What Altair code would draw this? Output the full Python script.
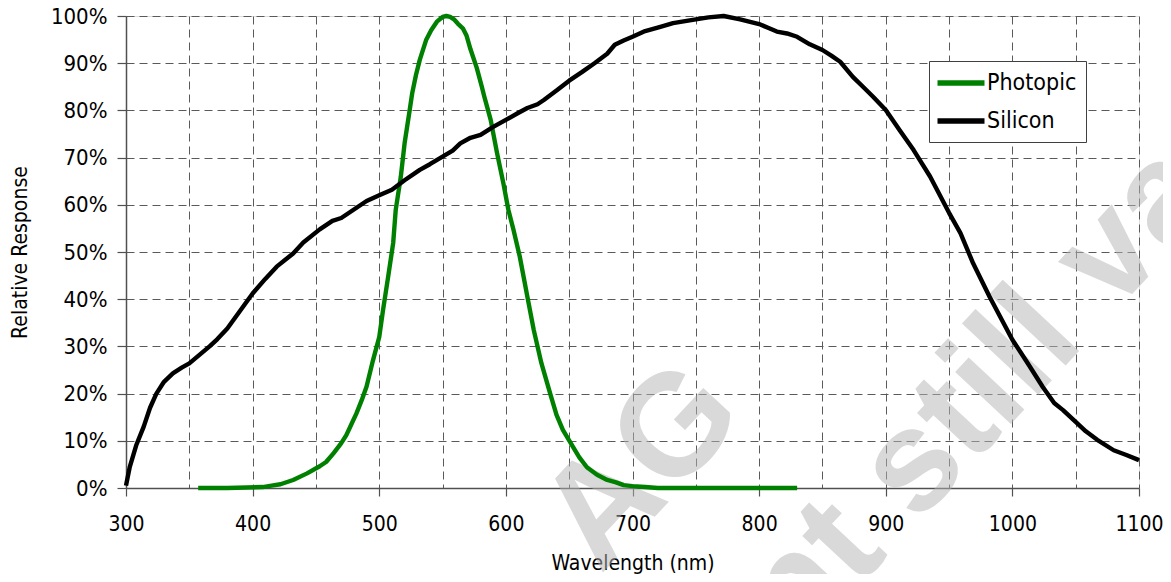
import altair as alt
import pandas as pd

# ---- data ----
silicon_nm = [300, 303, 308, 314, 319, 324, 330, 337, 344, 350, 358, 366, 372, 380, 390,
              400, 410, 419, 432, 440, 453, 463, 470, 480, 490, 500, 510, 520, 532, 540,
              550, 558, 564, 572, 580, 590, 600, 610, 617, 625, 630, 640, 650, 660, 670,
              680, 686, 693, 700, 710, 722, 732, 750, 760, 772, 785, 800, 807, 814, 822,
              830, 840, 850, 857, 864, 874, 882, 890, 900, 911, 922, 935, 950, 959, 969,
              982, 1000, 1012, 1024, 1033, 1040, 1050, 1058, 1067, 1080, 1090, 1100]
silicon_pct = [0.5, 4.5, 9, 13, 17, 20, 22.5, 24.3, 25.5, 26.4, 28.2, 30, 31.5, 33.8, 37.5,
               41.2, 44.3, 46.9, 49.7, 52, 54.8, 56.6, 57.2, 59, 60.8, 62, 63.2, 65.2, 67.4, 68.6,
               70.2, 71.5, 73, 74.2, 74.8, 76.5, 78, 79.5, 80.5, 81.3, 82.2, 84.2, 86.3, 88.1, 90,
               92, 93.9, 94.8, 95.6, 96.8, 97.7, 98.5, 99.3, 99.7, 100, 99.3, 98.3, 97.5, 96.7, 96.3,
               95.6, 94, 92.8, 91.6, 90.3, 87.1, 85, 82.9, 80.1, 75.8, 71.6, 66, 58.3, 54, 47.6,
               40.5, 31.4, 26.5, 21.4, 18, 16.5, 14, 12, 10.2, 8, 7, 5.9]

photopic_nm = [357, 380, 408, 415, 422, 432, 443, 453, 458, 464, 470, 474, 478, 482, 486,
               490, 495, 500, 503, 507, 511, 513, 517, 520, 524, 526, 529, 532, 537, 541,
               545.5, 550, 553, 556, 559, 562, 566, 569, 572, 577, 581, 583, 588, 593, 598, 602, 606,
               611, 617, 622, 628, 635, 640, 645, 653, 658, 664, 672, 680, 687, 693, 700,
               710, 720, 830]
photopic_pct = [0, 0, 0.2, 0.5, 0.8, 1.7, 3.1, 4.6, 5.5, 7.4, 9.5, 11.2, 13.5, 15.8, 18.5,
                21.5, 27, 32, 37.7, 44.7, 51.9, 58.9, 65.9, 73, 80, 83.6, 87.5, 90.7, 94.9, 97,
                98.8, 99.8, 100, 99.8, 99.3, 98.4, 97.4, 95.8, 93, 89, 85, 82.9, 78, 71, 64.6, 58.9, 54.7,
                49, 40.5, 33.5, 26.5, 20, 15.5, 12.3, 8.7, 6.5, 4.4, 2.8, 1.7, 1.2, 0.6, 0.4,
                0.2, 0, 0]

series_names = ["Photopic", "Silicon"]
series_colors = ["#008000", "#000000"]
x_ticks = list(range(300, 1101, 50))
y_ticks = list(range(0, 101, 10))

watermark_text = ["AG", "nt still va"]
watermark_nm = [708, 973]
watermark_pct = [4.5, 19.5]

# ---- tables ----
lines_df = pd.concat([
    pd.DataFrame({"nm": photopic_nm, "pct": photopic_pct, "series": "Photopic"}),
    pd.DataFrame({"nm": silicon_nm, "pct": silicon_pct, "series": "Silicon"}),
], ignore_index=True)
wm_df = pd.DataFrame({"nm": watermark_nm, "pct": watermark_pct, "txt": watermark_text})

FONT = "DejaVu Sans Condensed, DejaVu Sans"
AXC = "#505050"
GRID = "#5a5a5a"

x_enc = alt.X(
    "nm:Q",
    scale=alt.Scale(domain=[300, 1100], nice=False, zero=False),
    axis=alt.Axis(
        values=x_ticks,
        title="Wavelength (nm)",
        labelExpr="datum.value % 100 === 0 ? format(datum.value, 'd') : ''",
        tickOpacity={"condition": {"test": "datum.value % 100 !== 0", "value": 0}, "value": 1},
        labelFlush=False,
        labelOverlap=False,
        labelFont=FONT, labelFontSize=21, labelColor="black", labelPadding=17,
        tickSize=8, tickColor=AXC, tickWidth=1.2,
        domainColor=AXC, domainWidth=1.5,
        grid=True, gridColor=GRID, gridDash=[8, 5], gridWidth=1,
        titleFont=FONT, titleFontSize=21, titleFontWeight="normal", titleColor="black",
        titleY=75, titleBaseline="middle",
    ),
)
y_enc = alt.Y(
    "pct:Q",
    scale=alt.Scale(domain=[0, 100], nice=False),
    axis=alt.Axis(
        values=y_ticks,
        title="Relative Response",
        labelExpr="datum.value + '%'",
        labelFlush=False,
        labelOverlap=False,
        labelFont=FONT, labelFontSize=22, labelColor="black", labelPadding=10,
        tickSize=9, tickColor=AXC, tickWidth=1.2,
        domainColor=AXC, domainWidth=1.5,
        grid=True, gridColor=GRID, gridDash=[8, 5], gridWidth=1,
        titleFont=FONT, titleFontSize=21, titleFontWeight="normal", titleColor="black",
        titleAngle=270, titleX=-106, titleY=236, titleAlign="center", titleBaseline="middle",
    ),
)

watermark = alt.Chart(wm_df).mark_text(
    angle=313, font="Liberation Sans", fontWeight="bold", fontSize=144,
    color="#b4b4b4", opacity=0.5, align="center", baseline="middle",
).encode(x=x_enc, y=y_enc, text="txt:N")

lines = alt.Chart(lines_df).mark_line(strokeWidth=4.4, strokeJoin="round").encode(
    x=x_enc,
    y=y_enc,
    color=alt.Color(
        "series:N",
        scale=alt.Scale(domain=series_names, range=series_colors),
        legend=alt.Legend(
            title=None, orient="none", legendX=803, legendY=45, direction="vertical",
            symbolType="M-1.35,0H3.35", symbolSize=400, symbolStrokeWidth=5.5,
            labelFont=FONT, labelFontSize=23, labelColor="black", labelOffset=23,
            labelLimit=300, rowPadding=13, padding=9,
            strokeColor="#404040", fillColor="white",
        ),
    ),
)

chart = alt.layer(watermark, lines).properties(
    width=1013,
    height=472,
    autosize=alt.AutoSizeParams(type="none"),
    padding={"left": 118, "top": 8, "right": 24, "bottom": 86},
).configure_view(
    stroke="#8c8c8c", strokeWidth=1.5
).configure(background="white")

chart.save("out.html", embed_options={"renderer": "svg", "actions": False})
